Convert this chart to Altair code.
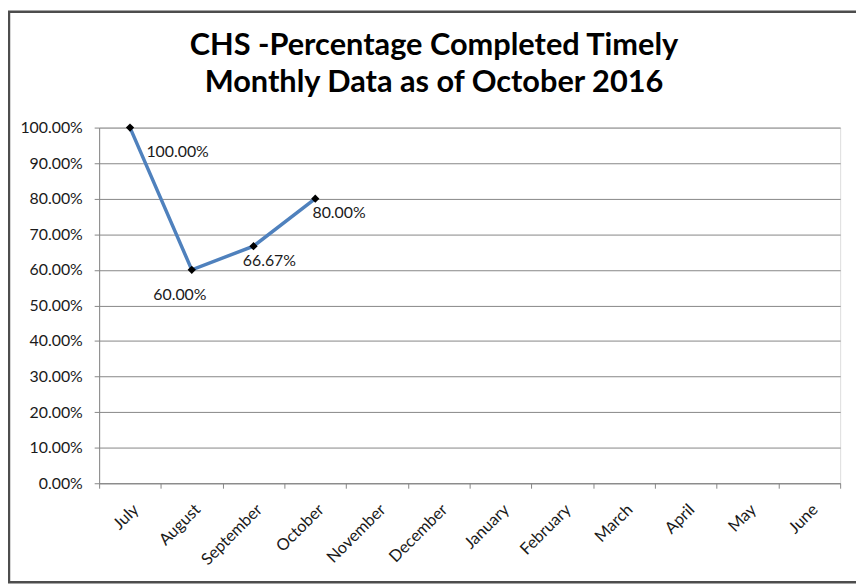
import altair as alt
import pandas as pd

months = ["July", "August", "September", "October", "November", "December",
          "January", "February", "March", "April", "May", "June"]
values = [1.0, 0.60, 0.6667, 0.80]
labels = ["100.00%", "60.00%", "66.67%", "80.00%"]
y_ticks = [0.0, 0.1, 0.2, 0.3, 0.4, 0.5, 0.6, 0.7, 0.8, 0.9, 1.0]

# label offsets (styling, dx, dy) per point as placed in the original
label_offsets = [(48, 25), (-12, 25), (16, 15), (24, 14)]

df = pd.DataFrame({"month": months[:len(values)], "value": values, "label": labels})

FONT = "Lato"
GRID = "#868686"

x_enc = alt.X("month:N", sort=months, scale=alt.Scale(domain=months, paddingInner=0, paddingOuter=0),
              axis=alt.Axis(title=None, tickBand="extent", labelAngle=-45, labelPadding=13,
                            tickSize=5, labelFont=FONT, labelFontSize=16.5, labelColor="#1a1a1a",
                            domainColor=GRID, tickColor=GRID, grid=False, labelOverlap=False))
y_enc = alt.Y("value:Q", scale=alt.Scale(domain=[0, 1], nice=False),
              axis=alt.Axis(title=None, format=".2%", values=y_ticks, tickCount=11,
                            labelFont=FONT, labelFontSize=16, labelColor="#1a1a1a",
                            labelPadding=12, tickSize=5, grid=True, gridColor=GRID,
                            domainColor=GRID, tickColor=GRID, labelOverlap=False))

base = alt.Chart(df).encode(x=x_enc, y=y_enc)
line = base.mark_line(color="#4F81BD", strokeWidth=3.5)
pts = base.mark_point(shape="diamond", filled=True, color="black", size=70, opacity=1)

texts = []
for lab, (dx, dy) in zip(labels, label_offsets):
    texts.append(
        base.transform_filter(alt.datum.label == lab)
        .mark_text(font=FONT, fontSize=16, dx=dx, dy=dy, align="center", baseline="middle", color="#1a1a1a")
        .encode(text="label:N")
    )

border = alt.Chart(pd.DataFrame({"a": [0]})).mark_rect(
    fill="white", fillOpacity=0, stroke="#4d4d4d", strokeWidth=2.5, clip=False
).encode(x=alt.value(-91), x2=alt.value(800), y=alt.value(-117), y2=alt.value(459))

chart = alt.layer(border, line, pts, *texts).properties(
    width=748, height=359,
    padding={"left": 92, "top": 118, "right": 16, "bottom": 101},
    autosize=alt.AutoSizeParams(type="none"),
    title=alt.Title(["CHS -Percentage Completed Timely", "Monthly Data as of October 2016"],
                    font=FONT, fontSize=31, fontWeight="bold", color="black",
                    anchor="middle", frame="group", dx=-36, lineHeight=37,
                    baseline="alphabetic", offset=-113),
).configure_view(stroke=None).configure(background="white")

chart.save("out.html", embed_options={"renderer": "svg", "actions": False})
